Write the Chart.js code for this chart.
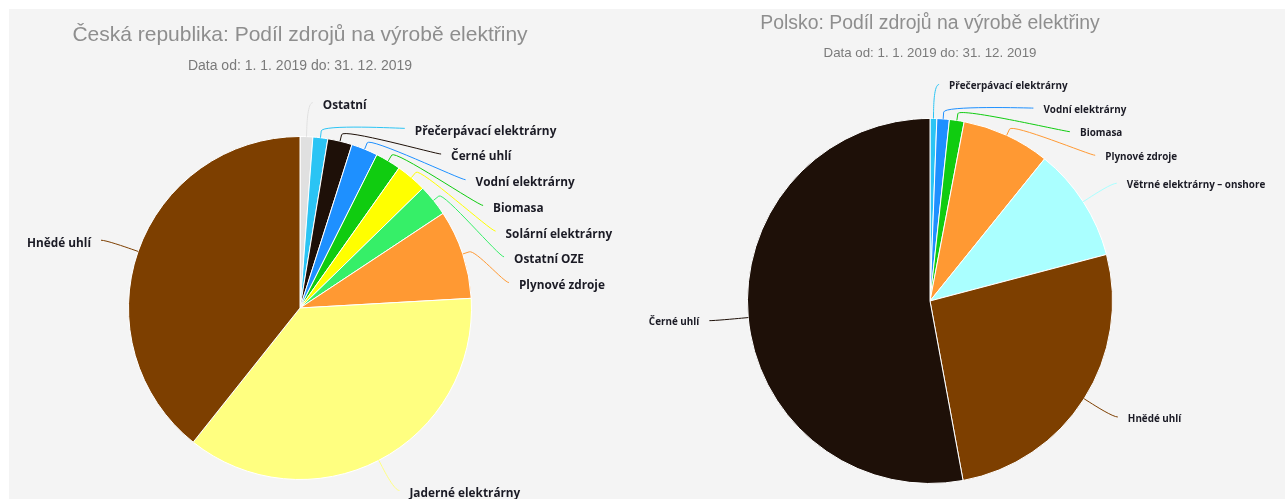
<!DOCTYPE html>
<html>
<head>
<meta charset="utf-8">
<script src="https://cdn.jsdelivr.net/npm/chart.js@4/dist/chart.umd.min.js"></script>
<style>
  body { margin: 0; background: #fff; width: 1285px; height: 499px; overflow: hidden; }
  #panel { position: absolute; left: 9px; top: 9px; width: 1276px; height: 490px; background: #f4f4f4; }
  canvas { position: absolute; top: 9px; }
  #grafCZ { left: 9px; }
  #grafPL { left: 640px; }
</style>
</head>
<body>
<div id="panel"></div>
<canvas id="grafCZ" width="631" height="490"></canvas>
<canvas id="grafPL" width="645" height="490"></canvas>
<script>
// Česko - podíly zdrojů (%)
const czZdroje = ['Ostatní', 'Přečerpávací elektrárny', 'Černé uhlí', 'Vodní elektrárny', 'Biomasa',
  'Solární elektrárny', 'Ostatní OZE', 'Plynové zdroje', 'Jaderné elektrárny', 'Hnědé uhlí'];
const czPodil = [1.2, 1.4, 2.3, 2.5, 2.4, 2.9, 3.0, 8.4, 36.6, 39.3];
const czBarvy = ['#e0e0e0', '#2bc4f4', '#1e1008', '#1e90ff', '#10cc10',
  '#ffff00', '#36ef68', '#ff9933', '#ffff80', '#7d3f00'];

// Polsko
const plZdroje = ['Přečerpávací elektrárny', 'Vodní elektrárny', 'Biomasa', 'Plynové zdroje',
  'Větrné elektrárny – onshore', 'Hnědé uhlí', 'Černé uhlí'];
const plPodil = [0.6, 1.1, 1.3, 7.8, 10.1, 26.2, 52.9];
const plBarvy = ['#2bc4f4', '#1e90ff', '#10cc10', '#ff9933', '#aaffff', '#7d3f00', '#1e1008'];

const obdobi = 'Data od: 1. 1. 2019 do: 31. 12. 2019';

// popisky mimo kolac s vodici carou (podobne jako highcharts)
const popiskyPlugin = {
  id: 'popisky',
  afterDatasetsDraw(chart, args, opts) {
    const ctx = chart.ctx;
    const meta = chart.getDatasetMeta(0);
    const barvy = chart.data.datasets[0].backgroundColor;
    const items = [];
    meta.data.forEach((arc, i) => {
      const p = arc.getProps(['x', 'y', 'startAngle', 'endAngle', 'outerRadius'], true);
      const a = (p.startAngle + p.endAngle) / 2;
      const r = p.outerRadius;
      const off = Math.min(11, opts.distance / 5);
      items.push({
        i: i, cx: p.x, cy: p.y, r: r,
        right: Math.cos(a) >= 0,
        yNat: p.y + Math.sin(a) * (r + opts.distance),
        sx: p.x + Math.cos(a) * r, sy: p.y + Math.sin(a) * r,
        bx: p.x + Math.cos(a) * (r + off), by: p.y + Math.sin(a) * (r + off)
      });
    });
    [true, false].forEach(strana => {
      const skupina = items.filter(it => it.right === strana).sort((a, b) => a.yNat - b.yNat);
      let prev = -Infinity;
      skupina.forEach(it => {
        it.y = Math.max(it.yNat, prev + opts.spacing);
        prev = it.y;
      });
    });
    ctx.save();
    items.forEach(it => {
      const rr = it.r + opts.distance;
      const dy = it.y - it.cy;
      const dx = Math.sqrt(Math.max(0, rr * rr - dy * dy)) + opts.extra;
      const lx = it.cx + (it.right ? dx : -dx);
      ctx.strokeStyle = barvy[it.i];
      ctx.lineWidth = 1;
      ctx.beginPath();
      ctx.moveTo(lx, it.y);
      ctx.bezierCurveTo(lx + (it.right ? -5 : 5), it.y, 2 * it.bx - it.sx, 2 * it.by - it.sy, it.bx, it.by);
      ctx.lineTo(it.sx, it.sy);
      ctx.stroke();

      ctx.font = 'bold ' + opts.fontSize + 'px "Open Sans"';
      ctx.fillStyle = '#1b1b25';
      ctx.textAlign = it.right ? 'left' : 'right';
      ctx.textBaseline = 'middle';
      ctx.fillText(chart.data.labels[it.i], lx + (it.right ? opts.gap : -opts.gap), it.y + opts.textDy);
    });
    ctx.restore();
  }
};

function udelejGraf(id, nazev, zdroje, podil, barvy, nast) {
  return new Chart(document.getElementById(id), {
    type: 'pie',
    data: {
      labels: zdroje,
      datasets: [{
        data: podil,
        backgroundColor: barvy,
        borderColor: '#ffffff',
        borderWidth: 1
      }]
    },
    options: {
      responsive: false,
      animation: false,
      events: [],
      layout: { padding: nast.padding },
      plugins: {
        legend: { display: false },
        tooltip: { enabled: false },
        title: {
          display: true,
          text: nazev,
          color: '#8e8e8e',
          font: { family: '"Liberation Sans"', size: nast.titleSize, weight: 'normal', lineHeight: 1.2 },
          padding: nast.titlePad
        },
        subtitle: {
          display: true,
          text: obdobi,
          color: '#7a7a7a',
          font: { family: '"Liberation Sans"', size: nast.subSize, weight: 'normal', lineHeight: 1.2 },
          padding: nast.subPad
        },
        popisky: nast.popisky
      }
    },
    plugins: [popiskyPlugin]
  });
}

udelejGraf('grafCZ', 'Česká republika: Podíl zdrojů na výrobě elektřiny', czZdroje, czPodil, czBarvy, {
  padding: { top: 0, left: 0, right: 49, bottom: 19 },
  titleSize: 21, titlePad: { top: 14, bottom: 6 },
  subSize: 14, subPad: { top: 4, bottom: 61 },
  popisky: { distance: 34, spacing: 25.7, fontSize: 11.8, gap: 10, textDy: 3, extra: 5 }
});

udelejGraf('grafPL', 'Polsko: Podíl zdrojů na výrobě elektřiny', plZdroje, plPodil, plBarvy, {
  padding: { top: 0, left: 0, right: 65, bottom: 15 },
  titleSize: 19.4, titlePad: { top: 3.4, bottom: 6 },
  subSize: 13.3, subPad: { top: 3.3, bottom: 57 },
  popisky: { distance: 34, spacing: 23.6, fontSize: 9.9, gap: 10, textDy: 2, extra: 5 }
});
</script>
</body>
</html>
